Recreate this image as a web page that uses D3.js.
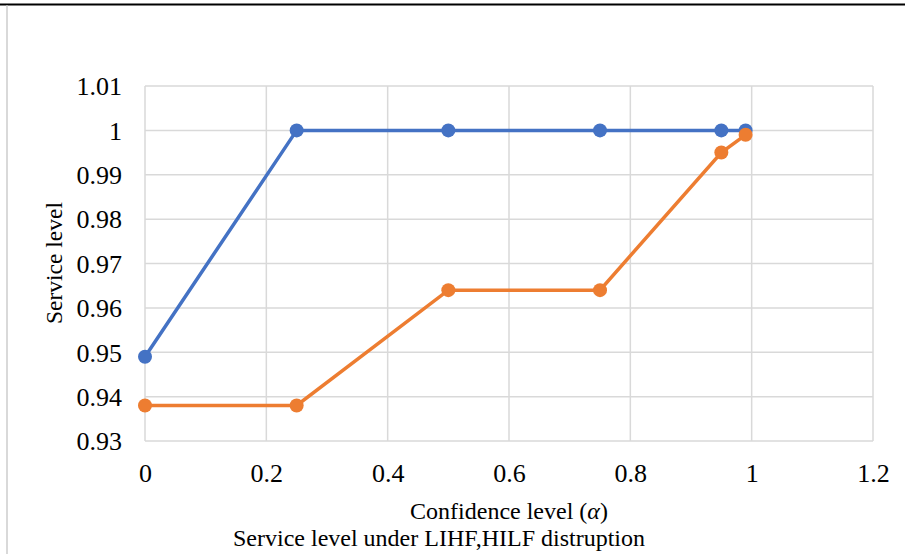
<!DOCTYPE html>
<html><head><meta charset="utf-8">
<script src="https://cdn.jsdelivr.net/npm/d3@7"></script>
<style>body{margin:0;background:#fff;} text{font-family:"Liberation Serif","Times New Roman",serif;fill:#000;}</style>
</head><body>
<script>
const alphaLevels = [0, 0.25, 0.5, 0.75, 0.95, 0.99];
const seriesLIHF = [0.949, 1, 1, 1, 1, 1];
const seriesHILF = [0.938, 0.938, 0.964, 0.964, 0.995, 0.999];
const xTicks = [0, 0.2, 0.4, 0.6, 0.8, 1, 1.2];
const yTicks = [0.93, 0.94, 0.95, 0.96, 0.97, 0.98, 0.99, 1, 1.01];
const colors = ["#4472C4", "#ED7D31"];

const W = 907, H = 554;
const svg = d3.select("body").append("svg").attr("width", W).attr("height", H);

// frame lines
svg.append("line").attr("x1",0).attr("x2",905).attr("y1",4.5).attr("y2",4.5).attr("stroke","#000").attr("stroke-width",2);
svg.append("line").attr("x1",7).attr("x2",7).attr("y1",5.5).attr("y2",H).attr("stroke","#d9d9d9").attr("stroke-width",2);

const x = d3.scaleLinear().domain([0, 1.2]).range([145, 873]);
const y = d3.scaleLinear().domain([0.93, 1.01]).range([441, 86]);

// grid
const g = svg.append("g");
g.selectAll(".vg").data(xTicks).join("line")
  .attr("x1", d => x(d)).attr("x2", d => x(d)).attr("y1", y(0.93)).attr("y2", y(1.01))
  .attr("stroke", "#d9d9d9").attr("stroke-width", 1.5);
g.selectAll(".hg").data(yTicks).join("line")
  .attr("x1", x(0)).attr("x2", x(1.2)).attr("y1", d => y(d)).attr("y2", d => y(d))
  .attr("stroke", "#d9d9d9").attr("stroke-width", 1.5);

// axes via d3
const xAxis = d3.axisBottom(x).tickValues(xTicks).tickSize(0).tickPadding(0).tickFormat(d3.format("~g"));
const xa = svg.append("g").attr("transform", `translate(0,${y(0.93)})`).call(xAxis);
xa.select(".domain").remove();
xa.selectAll("text").attr("dy", null).attr("y", 41).attr("font-size", 26).attr("font-family", null);

const yAxis = d3.axisLeft(y).tickValues(yTicks).tickSize(0).tickPadding(0).tickFormat(d3.format("~g"));
const ya = svg.append("g").attr("transform", `translate(122,0)`).call(yAxis);
ya.select(".domain").remove();
ya.selectAll("text").attr("dy", "0.34em").attr("x", 0).attr("font-size", 26).attr("font-family", null);

// titles
svg.append("text").attr("x", 509).attr("y", 519).attr("text-anchor", "middle").attr("font-size", 24)
  .html('Confidence level (<tspan font-style="italic">α</tspan>)');
svg.append("text").attr("x", 439).attr("y", 546).attr("text-anchor", "middle").attr("font-size", 24)
  .text("Service level under LIHF,HILF distruption");
svg.append("text").attr("transform", "translate(62,263) rotate(-90)").attr("text-anchor", "middle").attr("font-size", 23.5)
  .text("Service level");

// series
const line = d3.line().x((d, i) => x(alphaLevels[i])).y(d => y(d));
[seriesLIHF, seriesHILF].forEach((s, k) => {
  svg.append("path").datum(s).attr("d", line).attr("fill", "none").attr("stroke", colors[k]).attr("stroke-width", 3.5);
  svg.append("g").selectAll("circle").data(s).join("circle")
    .attr("cx", (d, i) => x(alphaLevels[i])).attr("cy", d => y(d)).attr("r", 7).attr("fill", colors[k]);
});
</script>
</body></html>
